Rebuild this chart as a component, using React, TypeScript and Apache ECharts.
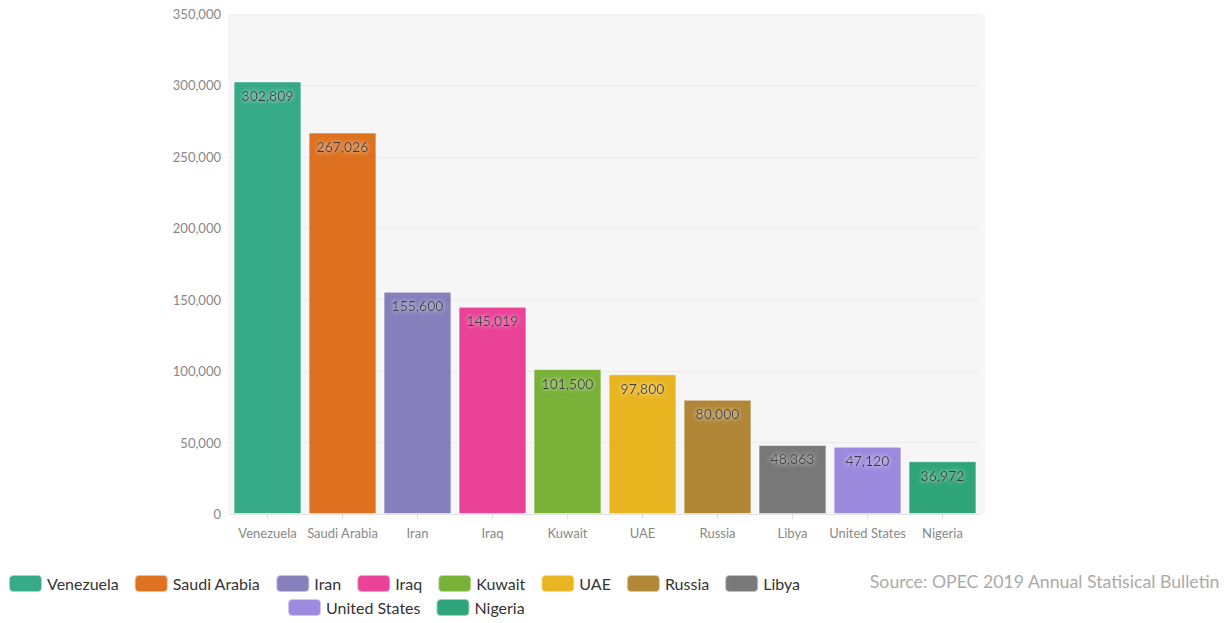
import React, { useEffect, useRef } from "react";
import * as echarts from "echarts";

const categories = ["Venezuela", "Saudi Arabia", "Iran", "Iraq", "Kuwait", "UAE", "Russia", "Libya", "United States", "Nigeria"];
const values = [302809, 267026, 155600, 145019, 101500, 97800, 80000, 48363, 47120, 36972];
const colors = ["#1b9e77", "#d95f02", "#7570b3", "#e7298a", "#66a61e", "#e6ab02", "#a6761d", "#666666", "#8e7cdc", "#13986a"];
const yTicks = [0, 50000, 100000, 150000, 200000, 250000, 300000, 350000];

const LFONT = "Lato, sans-serif";

export default function App() {
  const ref = useRef<HTMLDivElement>(null);
  useEffect(() => {
    if (!ref.current) return;
    const chart = echarts.init(ref.current, undefined, { renderer: "svg" });
    const series = categories.map((name, i) => ({
      name,
      type: "bar",
      stack: "all",
      barCategoryGap: "9.5%",
      data: categories.map((_, j) => (j === i ? values[i] : "-")),
      itemStyle: {
        color: colors[i],
        opacity: 0.88,
        borderColor: "rgba(255,255,255,0.6)",
        borderWidth: 1,
      },
      label: {
        show: true,
        position: "top",
        distance: -21,
        color: "#111111",
        fontSize: 14,
        fontFamily: LFONT,
        textBorderWidth: 0,
        textShadowColor: "#ffffff",
        textShadowBlur: 4,
        formatter: (p: any) => Number(p.value).toLocaleString("en-US"),
      },
    }));
    chart.setOption({
      animation: false,
      textStyle: { fontFamily: LFONT },
      grid: {
        left: 230,
        right: 250,
        top: 14,
        bottom: 109,
        show: false,
      },
      legend: [
        {
          data: categories.slice(0, 8),
          left: 8,
          top: 574,
          padding: 0,
          itemWidth: 33,
          itemHeight: 17,
          itemGap: 15,
          icon: "roundRect",
          textStyle: { fontSize: 16, color: "#333", fontFamily: LFONT },
        },
        {
          data: categories.slice(8),
          left: 287,
          top: 598,
          padding: 0,
          itemWidth: 33,
          itemHeight: 17,
          itemGap: 15,
          icon: "roundRect",
          textStyle: { fontSize: 16, color: "#333", fontFamily: LFONT },
        },
      ],
      xAxis: {
        type: "category",
        data: categories,
        axisLine: { lineStyle: { color: "#e2e2e2" } },
        axisTick: { show: true, alignWithLabel: true, length: 5, lineStyle: { color: "#ddd" } },
        axisLabel: { interval: 0, color: "#888", fontSize: 13, margin: 12, fontFamily: LFONT },
      },
      yAxis: {
        type: "value",
        min: yTicks[0],
        max: yTicks[yTicks.length - 1],
        interval: 50000,
        axisLine: { show: false },
        axisTick: { show: false },
        splitLine: { lineStyle: { color: "#ebebeb" } },
        axisLabel: {
          color: "#888",
          fontSize: 13,
          margin: 9,
          fontFamily: LFONT,
          formatter: (v: number) => v.toLocaleString("en-US"),
        },
      },
      graphic: [
        {
          type: "rect",
          z: -10,
          silent: true,
          shape: { x: 228, y: 14, width: 757, height: 500 },
          style: { fill: "#f6f6f6" },
        },
        {
          type: "text",
          right: 10,
          top: 572,
          style: {
            text: "Source: OPEC 2019 Annual Statisical Bulletin",
            fill: "#aaa",
            fontSize: 17.7,
            fontFamily: LFONT,
          },
        },
      ],
      series,
    });
    return () => chart.dispose();
  }, []);
  return <div ref={ref} style={{ width: 1230, height: 623, position: "absolute", left: 0, top: 0 }} />;
}
